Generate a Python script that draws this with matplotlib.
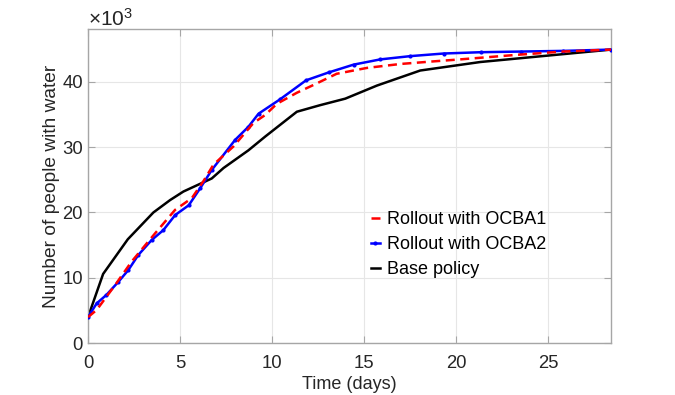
import matplotlib
matplotlib.use("Agg")
import matplotlib.pyplot as plt
from matplotlib.ticker import FuncFormatter

plt.rcParams['font.family'] = ['Liberation Sans', 'DejaVu Sans']
plt.rcParams['mathtext.fontset'] = 'custom'
plt.rcParams['mathtext.rm'] = 'Liberation Sans'
plt.rcParams['mathtext.it'] = 'Liberation Sans'

# Time (days) and number of people with water
base_t = [0, 0.82, 2.16, 3.55, 4.46, 5.18, 6.72, 7.36, 8.71, 9.62, 11.34, 12.6,
          13.97, 15.69, 18.04, 21.3, 28.4]
base_y = [4000, 10600, 15900, 20000, 21900, 23200, 25200, 26800, 29500, 31600,
          35400, 36400, 37400, 39400, 41700, 43000, 44900]

ocba2_t = [0, 0.47, 1.0, 1.65, 2.19, 2.73, 3.46, 4.09, 4.73, 5.47, 6.09, 6.72,
           7.99, 8.71, 9.26, 10.43, 11.84, 13.06, 14.42, 15.87, 17.5, 19.31,
           21.34, 23.5, 25.8, 28.4]
ocba2_y = [4000, 6100, 7400, 9400, 11200, 13500, 15800, 17300, 19600, 21100,
           23700, 26500, 31100, 33100, 35100, 37300, 40200, 41400, 42600, 43400,
           43900, 44300, 44500, 44600, 44700, 44900]

ocba1_t = [0, 0.47, 1.47, 2.37, 3.64, 4.73, 5.64, 6.27, 6.81, 7.9, 8.99, 9.62,
           10.25, 11.34, 12.25, 13.5, 15.15, 16.96, 18.77, 20.2, 23.3, 25.8, 28.4]
ocba1_y = [4000, 5100, 8900, 12500, 16800, 20400, 22200, 24800, 27300, 30100,
           33700, 34900, 36600, 38300, 39500, 41200, 42100, 42700, 43100, 43400,
           44100, 44600, 44900]

xticks = [0, 5, 10, 15, 20, 25]
yticks = [0, 10000, 20000, 30000, 40000]

fig = plt.figure(figsize=(6.75, 3.95), dpi=100)
ax = fig.add_axes([0.1304, 0.1309, 0.7748, 0.7949])

ax.plot(ocba1_t, ocba1_y, color='#ff0000', lw=1.8, ls=(0, (3.6, 2.2)),
        label='Rollout with OCBA1', zorder=4)
ax.plot(ocba2_t, ocba2_y, color='#0000ff', lw=1.8, marker='.', ms=4,
        label='Rollout with OCBA2', zorder=3)
ax.plot(base_t, base_y, color='black', lw=1.8, label='Base policy', zorder=2)

ax.set_xlim(0, 28.4)
ax.set_ylim(0, 48000)
ax.set_xticks(xticks)
ax.set_yticks(yticks)
ax.yaxis.set_major_formatter(FuncFormatter(lambda v, p: f"{v/1000:g}"))

ax.grid(True, color='#e6e6e6', lw=0.8)
ax.set_axisbelow(True)
for s in ax.spines.values():
    s.set_color('#a6a6a6')
    s.set_linewidth(1.0)
ax.tick_params(direction='in', length=5, width=0.8, color='#a6a6a6',
               top=True, right=True, labelsize=13.3, labelcolor='#262626')
ax.tick_params(axis='x', pad=8.5)
ax.tick_params(axis='y', pad=3.6)

ax.set_xlabel('Time (days)', fontsize=13, color='#262626', labelpad=3)
ax.set_ylabel('Number of people with water', fontsize=13.8, color='#262626', labelpad=1.5)

ax.text(0.0, 1.0, r'$\times10^{3}$', transform=ax.transAxes, fontsize=15,
        color='#262626', ha='left', va='bottom')

leg = ax.legend(loc='upper left', bbox_to_anchor=(0.527, 0.444), frameon=False,
                fontsize=13, handlelength=0.5, handletextpad=0.4,
                labelspacing=0.45, borderaxespad=0)

fig.savefig('out.png', dpi=100)
